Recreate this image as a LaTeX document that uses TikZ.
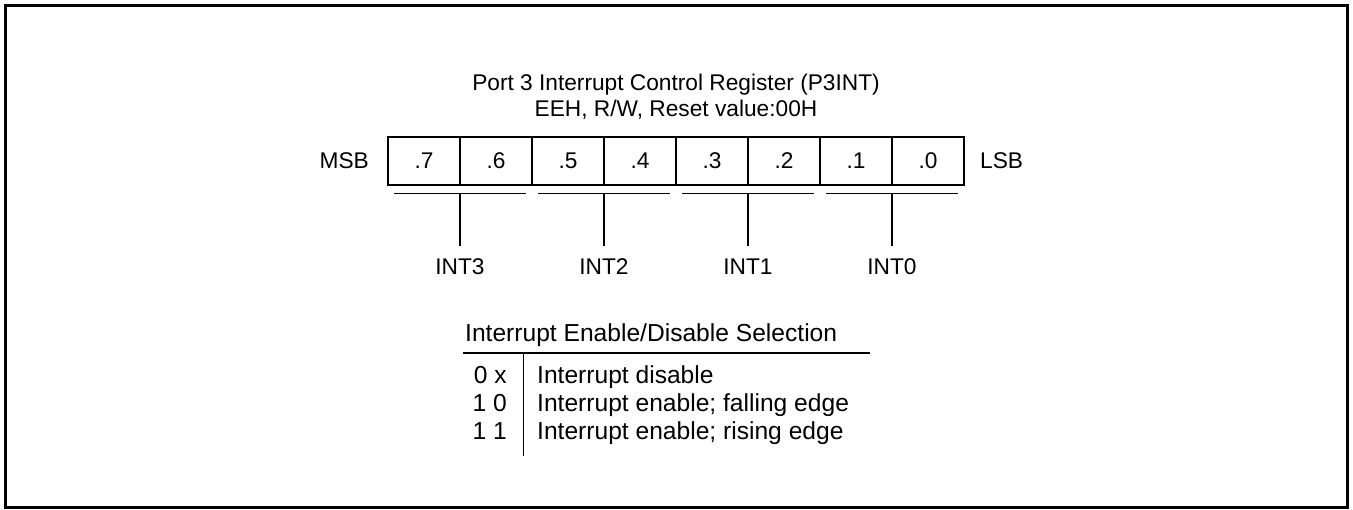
\documentclass[tikz,border=0pt]{standalone}
\usepackage{fontspec}
\setmainfont{Liberation Sans}
\begin{document}
\begin{tikzpicture}[x=1pt,y=-1pt,
  txt/.style={font=\fontsize{22.7}{26}\selectfont, inner sep=0pt, anchor=base},
  ttxt/.style={font=\fontsize{24.6}{28}\selectfont, inner sep=0pt, anchor=base west},
  cell/.style={draw, line width=1.8pt, minimum width=72pt, minimum height=48pt, inner sep=0pt},
  ln/.style={line width=1.8pt}]
\useasboundingbox (0,0) rectangle (1353,510);
\draw[line width=3pt] (5.5,5.5) rectangle (1347.5,507.5);
% title
\node[txt] (t1) at (676,90.5) {Port 3 Interrupt Control Register (P3INT)};
\node[txt] (t2) at (676,117) {EEH, R/W, Reset value:00H};
% register cells
\foreach \b [count=\i from 0] in {7,6,5,4,3,2,1,0}{
  \node[cell] (c\b) at (424+72*\i,161) {};
  \node[txt] (l\b) at (424+72*\i,169) {.\b};
}
\node[txt, anchor=base east] (msb) at (369,169) {MSB};
\node[txt, anchor=base west] (lsb) at (980,169) {LSB};
% groups
\foreach \g/\cx in {3/460,2/604,1/748,0/892}{
  \coordinate (ua\g) at (\cx-66,193.5);
  \coordinate (ub\g) at (\cx+66,193.5);
  \coordinate (um\g) at (\cx,193.5);
  \coordinate (ue\g) at (\cx,246);
  \node[txt] (int\g) at (\cx,275) {INT\g};
  \draw[ln] (ua\g) -- (ub\g);
  \draw[ln] (um\g) -- (ue\g);
}
% table
\node[ttxt] (head) at (465,341.5) {Interrupt Enable/Disable Selection};
\coordinate (hl) at (463,353.3);
\coordinate (hr) at (870,353.3);
\coordinate (vt) at (523.5,353.3);
\coordinate (vb) at (523.5,456);
\draw[ln] (hl) -- (hr);
\draw[ln] (vt) -- (vb);
\node[ttxt, anchor=base east] (k1) at (507,384) {0 x};
\node[ttxt, anchor=base east] (k2) at (507,412) {1 0};
\node[ttxt, anchor=base east] (k3) at (507,440) {1 1};
\node[ttxt] (d1) at (537,384) {Interrupt disable};
\node[ttxt] (d2) at (537,412) {Interrupt enable; falling edge};
\node[ttxt] (d3) at (537,440) {Interrupt enable; rising edge};
\end{tikzpicture}
\end{document}
